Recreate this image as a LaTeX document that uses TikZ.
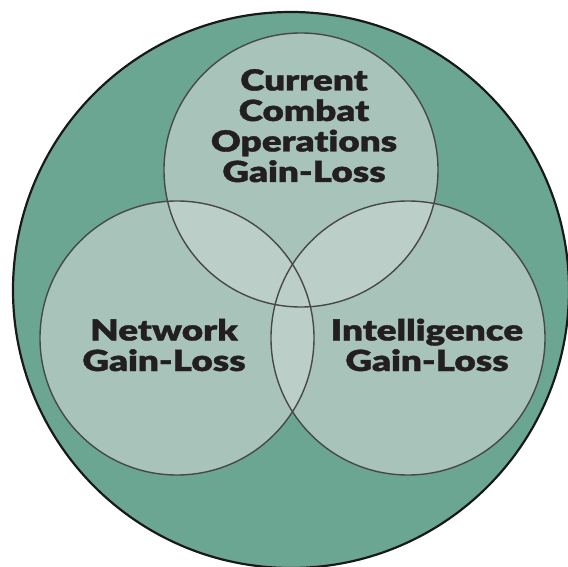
\documentclass[tikz,border=0pt]{standalone}
\usepackage{fontspec}
\setmainfont{Lato}[BoldFont={Lato Black}, BoldFeatures={FakeStretch=1.27, FakeBold=1.2}, Ligatures=NoCommon]
\definecolor{bggreen}{RGB}{106,166,146}
\definecolor{circfill}{RGB}{168,195,185}
\definecolor{overfill}{RGB}{188,206,200}
\definecolor{edgegray}{RGB}{72,72,72}
\definecolor{textdark}{RGB}{35,31,32}
\tikzset{
  outer/.style={fill=bggreen, draw=black!90, line width=2.2pt},
  venn/.style={draw=edgegray, line width=1.4pt},
  lab/.style={text=textdark, font=\fontsize{29}{30.5}\selectfont\bfseries, align=center, inner sep=0pt}
}
\begin{document}
\begin{tikzpicture}[x=1pt,y=-1pt]
\useasboundingbox (0,0) rectangle (568,567);
\fill[white] (0,0) rectangle (568,567);
\draw[outer] (291,290) circle[radius=278];
\coordinate (T) at (301,170);
\coordinate (L) at (177,338);
\coordinate (R) at (408,338);
\def\rr{137}
% single fills
\fill[circfill] (T) circle[radius=\rr];
\fill[circfill] (L) circle[radius=\rr];
\fill[circfill] (R) circle[radius=\rr];
% overlaps
\begin{scope}
  \clip (T) circle[radius=\rr];
  \fill[overfill] (L) circle[radius=\rr];
  \fill[overfill] (R) circle[radius=\rr];
\end{scope}
\begin{scope}
  \clip (L) circle[radius=\rr];
  \fill[overfill] (R) circle[radius=\rr];
\end{scope}
\draw[venn] (T) circle[radius=\rr];
\draw[venn] (L) circle[radius=\rr];
\draw[venn] (R) circle[radius=\rr];
\node[lab, anchor=base] (ccops) at (304,182) {Current\\Combat\\Operations\\Gain-Loss};
\node[lab, anchor=base] (net) at (164,371) {Network\\Gain-Loss};
\node[lab, anchor=base] (intel) at (427,371) {Intelligence\\Gain-Loss};
\end{tikzpicture}
\end{document}
